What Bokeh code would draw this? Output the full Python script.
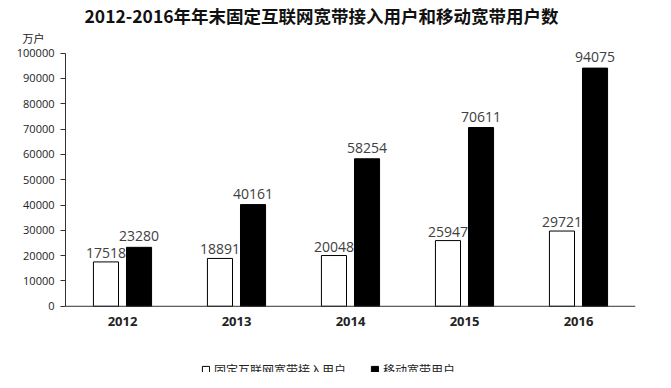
from bokeh.plotting import figure
from bokeh.models import (ColumnDataSource, FactorRange, Range1d, Legend, LegendItem, Title,
                          FixedTicker, PrintfTickFormatter, Span)
from bokeh.transform import dodge
from bokeh.core.properties import value
from bokeh.embed import file_html
from bokeh.resources import INLINE

years = ["2012", "2013", "2014", "2015", "2016"]
fixed_users = [17518, 18891, 20048, 25947, 29721]
mobile_users = [23280, 40161, 58254, 70611, 94075]
y_ticks = [0, 10000, 20000, 30000, 40000, 50000, 60000, 70000, 80000, 90000, 100000]
series_names = ["固定互联网宽带接入用户", "移动宽带用户"]
title_text = "2012-2016年年末固定互联网宽带接入用户和移动宽带用户数"
unit_text = "万户"

src = ColumnDataSource(dict(
    x=years,
    fixed=fixed_users,
    mobile=mobile_users,
    fixed_lbl=[str(v) for v in fixed_users],
    mobile_lbl=[str(v) for v in mobile_users],
))

FONT = "Noto Sans CJK SC"

p = figure(x_range=FactorRange(*years), y_range=Range1d(-26154, 103000),
           width=655, height=372, x_axis_location=None,
           output_backend="svg", toolbar_location=None,
           min_border_left=65, min_border_right=20, min_border_bottom=0, min_border_top=36)
p.outline_line_color = None
p.grid.visible = False
p.x_range.range_padding = 0
p.x_range.factor_padding = 0

r1 = p.vbar(x=dodge("x", -0.145, range=p.x_range), top="fixed", width=0.22, source=src,
            fill_color="white", line_color="black", line_width=1)
r2 = p.vbar(x=dodge("x", 0.145, range=p.x_range), top="mobile", width=0.22, source=src,
            fill_color="black", line_color="black", line_width=1)

p.text(x=dodge("x", -0.145, range=p.x_range), y="fixed", text="fixed_lbl", source=src,
       text_align="center", text_baseline="bottom", y_offset=-4,
       text_font=value("Open Sans"), text_font_size="14px", text_color="#404040")
p.text(x=dodge("x", 0.145, range=p.x_range), y="mobile", text="mobile_lbl", source=src,
       text_align="center", text_baseline="bottom", y_offset=-6,
       text_font=value("Open Sans"), text_font_size="14px", text_color="#404040")

# category labels under the baseline
p.text(x="x", y=0, text="x", source=src, text_align="center", text_baseline="top",
       y_offset=11, text_font=value("Open Sans"), text_font_size="13px",
       text_font_style="bold", text_color="#222222")

# x baseline
p.add_layout(Span(location=0, dimension="width", line_color="#333333", line_width=1))

p.yaxis.ticker = FixedTicker(ticks=y_ticks)
p.yaxis.bounds = (0, 100000)
p.yaxis.formatter = PrintfTickFormatter(format="%d")
p.yaxis.major_label_text_font = "Open Sans"
p.yaxis.major_label_text_font_size = "11px"
p.yaxis.major_label_text_color = "#222222"
p.yaxis.axis_line_color = "#333333"
p.yaxis.major_tick_line_color = "#333333"
p.yaxis.major_tick_out = 5
p.yaxis.major_tick_in = 0
p.yaxis.minor_tick_line_color = None
p.yaxis.major_label_standoff = 6

legend = Legend(items=[LegendItem(label=series_names[0], renderers=[r1]),
                       LegendItem(label=series_names[1], renderers=[r2])],
                orientation="horizontal", location=(136, -6),
                label_text_font=FONT, label_text_font_size="12px", label_text_color="#222222",
                glyph_width=9, glyph_height=9, spacing=24, border_line_color=None,
                background_fill_alpha=0, margin=0, padding=2, label_standoff=4)
p.add_layout(legend, "center")

u = Title(text=unit_text, align="left", offset=-43, standoff=0,
          text_font=FONT, text_font_size="11px", text_font_style="normal", text_color="#222222")
p.add_layout(u, "above")
t = Title(text=title_text, align="left", offset=19, standoff=0,
          text_font=FONT, text_font_size="17.5px", text_font_style="bold", text_color="#111111")
p.add_layout(t, "above")

open("out.html", "w").write(file_html(p, INLINE))
